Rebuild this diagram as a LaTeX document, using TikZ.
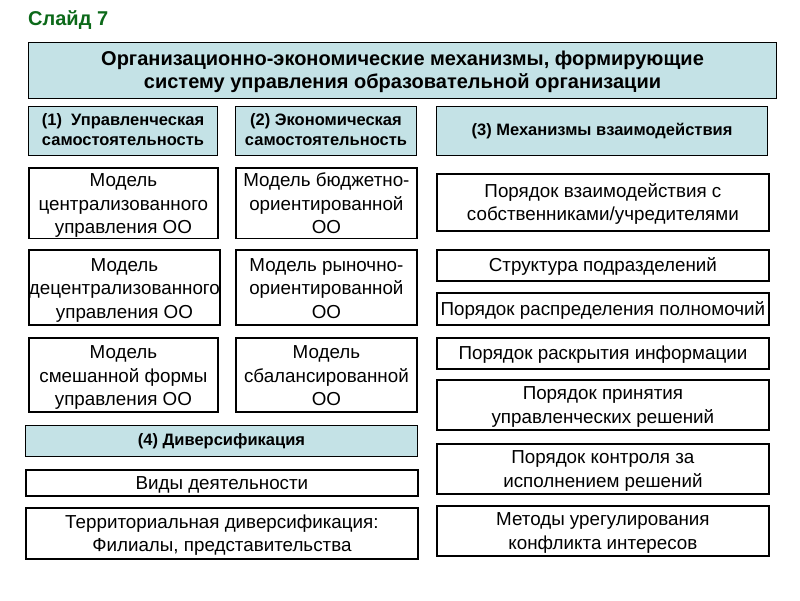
\documentclass[tikz,border=0pt]{standalone}
\usepackage{fontspec}
\setmainfont{Liberation Sans}
\definecolor{hdrfill}{RGB}{196,226,230}
\definecolor{titlegreen}{RGB}{12,105,25}
\tikzset{
  basebox/.style={draw=black, rectangle, anchor=north west, inner sep=0pt},
  bluebox/.style={basebox, fill=hdrfill, line width=1pt},
  whitebox/.style={basebox, fill=white, line width=1.8pt},
  hdrtext/.style={font=\fontsize{20}{23}\selectfont\bfseries},
  cattext/.style={font=\fontsize{16.5}{20}\selectfont\bfseries},
  bodytext/.style={font=\fontsize{18.8}{23.5}\selectfont},
}
\newcommand{\bx}[8]{% style, name, x1, y1, x2, y2, lowering, text
  \node[#1, minimum width={#5-#3}, minimum height={#6-#4}] (#2) at (#3,#4)
    {\raisebox{-#7}[\height][\depth]{\begin{tabular}{@{}c@{}}#8\end{tabular}}};}
\begin{document}
\begin{tikzpicture}[x=1pt,y=-1pt]
\useasboundingbox (0,0) rectangle (800,600);
\node[anchor=west, inner sep=0pt, text=titlegreen, font=\fontsize{20}{24}\selectfont\bfseries] (slide) at (28,20) {Слайд 7};
\bx{bluebox,hdrtext}{hdr}{28}{42}{776}{98}{2pt}{Организационно-экономические механизмы, формирующие\\ систему управления образовательной организации}
\bx{bluebox,cattext}{c1}{28}{106}{217}{155}{0.5pt}{(1)\ \ Управленческая\\ самостоятельность}
\bx{bluebox,cattext}{c2}{235}{106}{416}{155}{0.5pt}{(2) Экономическая\\ самостоятельность}
\bx{bluebox,cattext}{c3}{436}{106}{767}{155}{0.5pt}{(3) Механизмы взаимодействия}
% column 1
\bx{whitebox,bodytext}{m11}{28}{167}{217}{237}{2.5pt}{Модель\\ централизованного\\ управления ОО}
\bx{whitebox,bodytext}{m12}{28}{249}{217}{324}{2.5pt}{Модель\\ децентрализованного\\ управления ОО}
\bx{whitebox,bodytext}{m13}{28}{337}{217}{411}{2.5pt}{Модель\\ смешанной формы\\ управления ОО}
% column 2
\bx{whitebox,bodytext}{m21}{235}{167}{416}{237}{2.5pt}{Модель бюджетно-\\ ориентированной\\ ОО}
\bx{whitebox,bodytext}{m22}{235}{249}{416}{324}{2.5pt}{Модель рыночно-\\ ориентированной\\ ОО}
\bx{whitebox,bodytext}{m23}{235}{337}{416}{411}{2.5pt}{Модель\\ сбалансированной\\ ОО}
% diversification
\bx{bluebox,cattext}{c4}{25}{425}{417}{456}{0.5pt}{(4) Диверсификация}
\bx{whitebox,bodytext}{d1}{25}{469}{417}{495}{1.5pt}{Виды деятельности}
\bx{whitebox,bodytext}{d2}{25}{507}{417}{558}{2pt}{Территориальная диверсификация:\\ Филиалы, представительства}
% right column
\bx{whitebox,bodytext}{r1}{436}{173}{768}{230}{2pt}{Порядок взаимодействия с\\ собственниками/учредителями}
\bx{whitebox,bodytext}{r2}{436}{249}{768}{280}{1.5pt}{Структура подразделений}
\bx{whitebox,bodytext}{r3}{436}{292}{768}{324}{1.5pt}{Порядок распределения полномочий}
\bx{whitebox,bodytext}{r4}{436}{337}{768}{368}{1.5pt}{Порядок раскрытия информации}
\bx{whitebox,bodytext}{r5}{436}{379}{768}{429}{2pt}{Порядок принятия\\ управленческих решений}
\bx{whitebox,bodytext}{r6}{436}{443}{768}{493}{2pt}{Порядок контроля за\\ исполнением решений}
\bx{whitebox,bodytext}{r7}{436}{505}{768}{555}{2pt}{Методы урегулирования\\ конфликта интересов}
\end{tikzpicture}
\end{document}
